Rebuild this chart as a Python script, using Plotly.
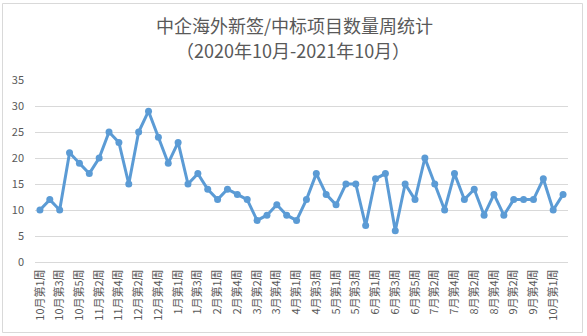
import plotly.graph_objects as go

# Weekly count of new signed / won overseas projects by Chinese enterprises
weeks = [
    "10月第1周", "10月第2周", "10月第3周", "10月第4周", "10月第5周",
    "11月第1周", "11月第2周", "11月第3周", "11月第4周",
    "12月第1周", "12月第2周", "12月第3周", "12月第4周", "12月第5周",
    "1月第1周", "1月第2周", "1月第3周", "1月第4周",
    "2月第1周", "2月第2周", "2月第4周",
    "3月第1周", "3月第2周", "3月第3周", "3月第4周", "3月第5周",
    "4月第1周", "4月第2周", "4月第3周", "4月第4周",
    "5月第1周", "5月第2周", "5月第3周", "5月第4周",
    "6月第1周", "6月第2周", "6月第3周", "6月第4周", "6月第5周",
    "7月第1周", "7月第2周", "7月第3周", "7月第4周",
    "8月第1周", "8月第2周", "8月第3周", "8月第4周",
    "9月第1周", "9月第2周", "9月第3周", "9月第4周", "9月第5周",
    "10月第1周 ", "10月第2周 ",
]
counts = [
    10, 12, 10, 21, 19, 17, 20, 25, 23, 15, 25, 29, 24, 19, 23, 15, 17, 14,
    12, 14, 13, 12, 8, 9, 11, 9, 8, 12, 17, 13, 11, 15, 15, 7, 16, 17, 6, 15,
    12, 20, 15, 10, 17, 12, 14, 9, 13, 9, 12, 12, 12, 16, 10, 13,
]
y_ticks = [0, 5, 10, 15, 20, 25, 30, 35]
title_main = "中企海外新签/中标项目数量周统计"
title_sub = "（2020年10月-2021年10月）"

FONT = "Noto Sans CJK SC"
TEXT = "#595959"
GRID = "#D9D9D9"
LINE = "#5B9BD5"

fig = go.Figure(
    go.Scatter(
        x=weeks,
        y=counts,
        mode="lines+markers",
        line=dict(color=LINE, width=3),
        marker=dict(color=LINE, size=7, symbol="circle"),
        hoverinfo="x+y",
    )
)

# category labels shown on every other week
shown = weeks[::2]
fig.update_xaxes(
    type="category",
    range=[-0.5, len(weeks) - 0.5],
    tickmode="array",
    tickvals=shown,
    ticktext=[w.strip() for w in shown],
    tickangle=-90,
    tickfont=dict(family=FONT, size=11, color=TEXT),
    showgrid=False,
    showline=True,
    linecolor=GRID,
    linewidth=1,
    ticks="",
    ticklabelstandoff=2,
)
fig.update_yaxes(
    range=[0, 35],
    tickmode="array",
    tickvals=y_ticks,
    tickfont=dict(family=FONT, size=11, color=TEXT),
    showgrid=True,
    gridcolor=GRID,
    gridwidth=1,
    zeroline=False,
    showline=False,
    ticks="",
    ticklabelstandoff=10,
)

L, R, T, B = 35, 19, 80, 74
W, H = 587, 336
pw, ph = W - L - R, H - T - B

def px_x(x):
    return (x - L) / pw

def px_y(y):
    return (H - B - y) / ph

annotations = [
    dict(text=title_main, x=px_x(294), y=px_y(25), xref="paper", yref="paper",
         showarrow=False, xanchor="center", yanchor="middle",
         font=dict(family=FONT, size=18, color=TEXT)),
    dict(text=title_sub, x=px_x(293), y=px_y(50), xref="paper", yref="paper",
         showarrow=False, xanchor="center", yanchor="middle",
         font=dict(family=FONT, size=18, color=TEXT)),
]

# chart area border
shapes = [
    dict(type="rect", xref="paper", yref="paper",
         x0=px_x(2.5), x1=px_x(582.5), y0=px_y(332.5), y1=px_y(3.5),
         line=dict(color=GRID, width=1), fillcolor="rgba(0,0,0,0)", layer="below"),
]

fig.update_layout(
    width=W,
    height=H,
    margin=dict(l=L, r=R, t=T, b=B, pad=0),
    paper_bgcolor="white",
    plot_bgcolor="white",
    showlegend=False,
    annotations=annotations,
    shapes=shapes,
)

fig.write_html("out.html", config={"displayModeBar": False})
